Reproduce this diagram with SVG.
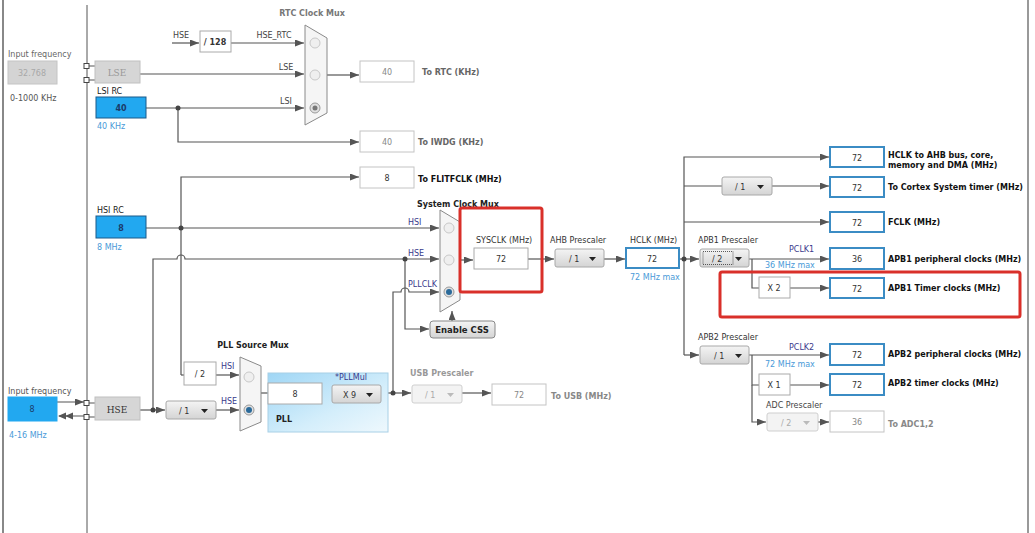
<svg xmlns="http://www.w3.org/2000/svg" width="1035" height="533" viewBox="0 0 1035 533">
<style>
text{font-family:"DejaVu Sans","Liberation Sans",sans-serif;font-size:8px;fill:#333}
.b{font-weight:bold}
.c{text-anchor:middle}
.gr{fill:#888}
.gb{fill:#777;font-weight:bold}
.nv{fill:#3a3a8c}
.bl{fill:#4a9ad8}
.ser{font-family:"DejaVu Serif","Liberation Serif",serif;font-size:9px}
.ln{stroke:#555;stroke-width:1.2;fill:none}
.ar{marker-end:url(#ah)}
.out{fill:#fff;stroke:#3b8cc4;stroke-width:2}
.gbox{fill:#fff;stroke:#c4c4c4;stroke-width:1}
.wbox{fill:#fff;stroke:#aaa;stroke-width:1}
.src{fill:#22a8f0;stroke:#1b5a8a;stroke-width:1}
.grs{fill:#d6d6d6;stroke:#c0c0c0;stroke-width:1}
.dd{fill:url(#gdd);stroke:#a8a8a8;stroke-width:1}
.ddx{fill:#f3f3f3;stroke:#cfcfcf;stroke-width:1}
.mux{fill:#f5f5f5;stroke:#8a8a8a;stroke-width:1}
.rad{fill:#efefef;stroke:#c8c8c8;stroke-width:1}
.rsel{fill:#e0e0e0;stroke:#999;stroke-width:1}
.red{fill:none;stroke:#d9302a;stroke-width:3}
.dot{fill:#444}
.sq{fill:#fff;stroke:#444;stroke-width:1}
</style>
<defs>
<marker id="ah" markerWidth="9" markerHeight="7" refX="9" refY="3.5" orient="auto" markerUnits="userSpaceOnUse"><path d="M0,0 L9,3.5 L0,7 z" fill="#555"/></marker>
<linearGradient id="gdd" x1="0" y1="0" x2="0" y2="1"><stop offset="0" stop-color="#f4f4f4"/><stop offset="1" stop-color="#d4d4d4"/></linearGradient>
<linearGradient id="gpll" x1="0" y1="0" x2="1" y2="1"><stop offset="0" stop-color="#9fd6f5"/><stop offset="0.6" stop-color="#d4eefb"/><stop offset="1" stop-color="#eef8fd"/></linearGradient>
<path id="tri" d="M0,0 L7,0 L3.5,4 z"/>
</defs>
<rect width="1035" height="533" fill="#fff"/>
<g id="frame">
<line x1="3" y1="0" x2="3" y2="533" stroke="#888" stroke-width="2"/>
<line x1="1028" y1="0" x2="1028" y2="533" stroke="#999" stroke-width="2"/>
<line x1="87" y1="5" x2="87" y2="533" stroke="#555" stroke-width="1"/>
</g>
<g id="connectors">
<path class="ln ar" d="M172,43 H199"/>
<path class="ln ar" d="M231,43 H304"/>
<path class="ln ar" d="M140,74 H304"/>
<path class="ln ar" d="M146,108 H304"/>
<path class="ln ar" d="M327,75 H359"/>
<path class="ln ar" d="M178,108 V142 H359"/>
<path class="ln" d="M89,66 H95 M89,80 H95"/>
<path class="ln ar" d="M181,375 V177 H359"/>
<path class="ln" d="M181,375 H184"/>
<path class="ln ar" d="M146,228 H439"/>
<path class="ln ar" d="M153,410 V259 H177 A4,4 0 0 1 185,259 H439"/>
<path class="ln ar" d="M393,393 V292 H401 A4,4 0 0 1 409,292 H439"/>
<path class="ln ar" d="M405,259 V329 H429"/>
<path class="ln ar" d="M452,321 V311"/>
<path class="ln ar" d="M460,260 H473"/>
<path class="ln ar" d="M528,259 H554"/>
<path class="ln ar" d="M604,259 H625"/>
<path class="ln ar" d="M679,259 H699"/>
<path class="ln ar" d="M684,355 V157 H829"/>
<path class="ln ar" d="M684,355 H699"/>
<path class="ln" d="M684,186 H722"/>
<path class="ln ar" d="M772,186 H829"/>
<path class="ln ar" d="M684,222 H829"/>
<path class="ln ar" d="M749,259 H829"/>
<path class="ln" d="M752,259 V288 H759"/>
<path class="ln ar" d="M790,288 H829"/>
<path class="ln ar" d="M749,355 H829"/>
<path class="ln" d="M752,355 V385 H759"/>
<path class="ln ar" d="M752,385 V422 H766"/>
<path class="ln ar" d="M790,385 H829"/>
<path class="ln ar" d="M818,422 H829"/>
<path class="ln ar" d="M57,402 H75 M75,402 H84"/>
<path class="ln" d="M89,403 H95 M89,417 H95 M59,416 H85"/>
<path d="M58,416 L66,412.5 L66,419.5 z M65,416 L73,412.5 L73,419.5 z" fill="#555"/>
<path class="ln ar" d="M140,410 H165"/>
<path class="ln ar" d="M216,410 H239"/>
<path class="ln ar" d="M216,375 H239"/>
<path class="ln" d="M261,393 H268"/>
<path class="ln" d="M322,393 H332"/>
<path class="ln ar" d="M381,393 H411"/>
<path class="ln ar" d="M462,393 H491"/>
<circle class="dot" cx="178" cy="108" r="2.5"/>
<circle class="dot" cx="181" cy="228" r="2.5"/>
<circle class="dot" cx="405" cy="259" r="2.5"/>
<circle class="dot" cx="684" cy="259" r="2.5"/>
<circle class="dot" cx="153" cy="410" r="2.5"/>
<circle class="dot" cx="393" cy="393" r="2.5"/>
<rect class="sq" x="84" y="63.5" width="5" height="5"/>
<rect class="sq" x="84" y="77.5" width="5" height="5"/>
<rect class="sq" x="84" y="400.5" width="5" height="5"/>
<rect class="sq" x="84" y="414.5" width="5" height="5"/>
</g>
<g id="input-lse">
<text x="8" y="57" class="gr" style="fill:#666">Input frequency</text>
<rect x="8" y="61" width="49" height="23" fill="#d4d4d4" stroke="#c4c4c4"/>
<text x="32" y="76" class="c" style="fill:#a8a8a8">32.768</text>
<text x="10" y="101" style="fill:#555">0-1000 KHz</text>
</g>
<g id="lse">
<rect class="grs" x="95" y="61" width="45" height="22"/>
<text x="117" y="76" class="c ser" style="fill:#999">LSE</text>
</g>
<g id="lsi">
<text x="97" y="94" style="fill:#222">LSI RC</text>
<rect class="src" x="96" y="97" width="50" height="21"/>
<text x="121" y="111" class="c b" style="fill:#1a3a6a">40</text>
<text x="97" y="129" class="bl">40 KHz</text>
</g>
<g id="hse-rtc-div">
<text x="173" y="38" style="fill:#444">HSE</text>
<rect class="wbox" x="200" y="31" width="31" height="21"/>
<text x="215" y="45" class="c b">/ 128</text>
<text x="274" y="38" class="c" style="fill:#444">HSE_RTC</text>
<text x="286" y="70" class="c" style="fill:#444">LSE</text>
<text x="286" y="104" class="c" style="fill:#444">LSI</text>
</g>
<g id="rtc-mux">
<text x="312" y="16" class="c gb">RTC Clock Mux</text>
<polygon class="mux" points="305,25 327,38 327,113 305,125"/>
<circle class="rad" cx="315" cy="43" r="5"/>
<circle class="rad" cx="315" cy="75" r="5"/>
<circle class="rsel" cx="315" cy="108" r="5"/>
<circle cx="315" cy="108" r="2.5" fill="#777"/>
</g>
<g id="rtc-out">
<rect class="gbox" x="360" y="61" width="54" height="21"/>
<text x="387" y="75" class="c gr">40</text>
<text x="422" y="75" class="gb" style="fill:#666">To RTC (KHz)</text>
</g>
<g id="iwdg-out">
<rect class="gbox" x="360" y="131" width="54" height="21"/>
<text x="387" y="145" class="c gr">40</text>
<text x="418" y="145" class="gb" style="fill:#666">To IWDG (KHz)</text>
</g>
<g id="flitf-out">
<rect class="gbox" x="360" y="167" width="54" height="21"/>
<text x="387" y="181" class="c">8</text>
<text x="418" y="182" class="b" style="fill:#111">To FLITFCLK (MHz)</text>
</g>
<g id="hsi">
<text x="97" y="213" style="fill:#222">HSI RC</text>
<rect class="src" x="96" y="216" width="50" height="22"/>
<text x="121" y="231" class="c b" style="fill:#1a3a6a">8</text>
<text x="97" y="250" class="bl">8 MHz</text>
</g>
<g id="sys-mux">
<text x="458" y="207" class="c b" style="fill:#222">System Clock Mux</text>
<text x="408" y="225" class="nv">HSI</text>
<text x="408" y="256" class="nv">HSE</text>
<text x="408" y="287" class="nv">PLLCLK</text>
<polygon class="mux" points="440,210 460,222 460,300 440,312"/>
<circle class="rad" cx="449" cy="228" r="5"/>
<circle class="rad" cx="449" cy="260" r="5"/>
<circle class="rsel" cx="449" cy="292" r="5"/>
<circle cx="449" cy="292" r="3" fill="#2a6a9a"/>
</g>
<g id="enable-css">
<rect x="430" y="321" width="65" height="17" rx="3" fill="url(#gdd)" stroke="#888"/>
<text x="462" y="333" class="c b" style="fill:#222;font-size:8.5px">Enable CSS</text>
</g>
<g id="sysclk">
<text x="476" y="243">SYSCLK (MHz)</text>
<rect class="wbox" x="474" y="248" width="54" height="21"/>
<text x="501" y="262" class="c">72</text>
</g>
<g id="ahb">
<text x="550" y="243">AHB Prescaler</text>
<rect class="dd" x="555" y="249" width="49" height="18" rx="2"/>
<text x="569" y="262">/ 1</text>
<use href="#tri" x="589" y="257" fill="#222"/>
</g>
<g id="hclk">
<text x="630" y="243">HCLK (MHz)</text>
<rect class="out" x="626" y="248" width="53" height="20"/>
<text x="652" y="262" class="c">72</text>
<text x="630" y="280" class="bl">72 MHz max</text>
</g>
<g id="hclk-ahb">
<rect class="out" x="830" y="147" width="54" height="20"/>
<text x="857" y="161" class="c">72</text>
<text x="888" y="158" class="b" style="fill:#111">HCLK to AHB bus, core,</text>
<text x="888" y="168" class="b" style="fill:#111">memory and DMA (MHz)</text>
</g>
<g id="cortex">
<rect class="dd" x="722" y="177" width="50" height="18" rx="2"/>
<text x="735" y="190">/ 1</text>
<use href="#tri" x="757" y="185" fill="#222"/>
<rect class="out" x="830" y="177" width="54" height="20"/>
<text x="857" y="191" class="c">72</text>
<text x="888" y="190" class="b" style="fill:#111">To Cortex System timer (MHz)</text>
</g>
<g id="fclk">
<rect class="out" x="830" y="212" width="54" height="20"/>
<text x="857" y="226" class="c">72</text>
<text x="888" y="225" class="b" style="fill:#111">FCLK (MHz)</text>
</g>
<g id="apb1">
<text x="698" y="243">APB1 Prescaler</text>
<rect class="dd" x="700" y="249" width="49" height="18" rx="2"/>
<rect x="703" y="251.5" width="30" height="13" fill="none" stroke="#333" stroke-width="0.8" stroke-dasharray="1,1"/>
<text x="712" y="262">/ 2</text>
<use href="#tri" x="735" y="257" fill="#222"/>
<text x="789" y="252" class="nv">PCLK1</text>
<text x="765" y="268" class="bl">36 MHz max</text>
<rect class="out" x="830" y="248" width="54" height="21"/>
<text x="857" y="262" class="c">36</text>
<text x="888" y="262" class="b" style="fill:#111">APB1 peripheral clocks (MHz)</text>
</g>
<g id="apb1-timer">
<rect class="wbox" x="759" y="277" width="31" height="21"/>
<text x="774" y="291" class="c">X 2</text>
<rect class="out" x="830" y="278" width="54" height="20"/>
<text x="857" y="292" class="c">72</text>
<text x="888" y="291" class="b" style="fill:#111">APB1 Timer clocks (MHz)</text>
</g>
<g id="apb2">
<text x="698" y="340">APB2 Prescaler</text>
<rect class="dd" x="700" y="346" width="49" height="18" rx="2"/>
<text x="714" y="359">/ 1</text>
<use href="#tri" x="735" y="354" fill="#222"/>
<text x="789" y="350" class="nv">PCLK2</text>
<text x="765" y="367" class="bl">72 MHz max</text>
<rect class="out" x="830" y="344" width="54" height="21"/>
<text x="857" y="358" class="c">72</text>
<text x="888" y="357" class="b" style="fill:#111">APB2 peripheral clocks (MHz)</text>
</g>
<g id="apb2-timer">
<rect class="wbox" x="759" y="374" width="31" height="21"/>
<text x="774" y="388" class="c">X 1</text>
<rect class="out" x="830" y="374" width="54" height="21"/>
<text x="857" y="388" class="c">72</text>
<text x="888" y="386" class="b" style="fill:#111">APB2 timer clocks (MHz)</text>
</g>
<g id="adc">
<text x="766" y="408" style="fill:#444">ADC Prescaler</text>
<rect class="ddx" x="767" y="413" width="51" height="18" rx="2"/>
<text x="781" y="426" style="fill:#aaa">/ 2</text>
<use href="#tri" x="803" y="421" fill="#bbb"/>
<rect class="gbox" x="830" y="411" width="54" height="21"/>
<text x="857" y="425" class="c gr">36</text>
<text x="888" y="427" class="gb" style="fill:#888">To ADC1,2</text>
</g>
<g id="hse-input">
<text x="8" y="394" style="fill:#555">Input frequency</text>
<rect x="8" y="397" width="49" height="24" fill="#22a8f0" stroke="#22a8f0"/>
<text x="32" y="412" class="c" style="fill:#1a3a6a">8</text>
<text x="9" y="438" class="bl">4-16 MHz</text>
</g>
<g id="hse">
<rect class="grs" x="95" y="397" width="45" height="23"/>
<text x="117" y="413" class="c ser" style="fill:#333">HSE</text>
</g>
<g id="pll-div1">
<rect class="dd" x="166" y="401" width="50" height="18" rx="2"/>
<text x="179" y="414">/ 1</text>
<use href="#tri" x="201" y="409" fill="#222"/>
</g>
<g id="hsi-div2">
<rect class="wbox" x="184" y="362" width="32" height="23"/>
<text x="200" y="377" class="c">/ 2</text>
</g>
<g id="pll-src-mux">
<text x="253" y="348" class="c b" style="fill:#222">PLL Source Mux</text>
<text x="221" y="369" class="nv">HSI</text>
<text x="221" y="404" class="nv">HSE</text>
<polygon class="mux" points="240,357 261,366 261,422 240,431"/>
<circle class="rad" cx="249" cy="377" r="5"/>
<circle class="rsel" cx="249" cy="410" r="5"/>
<circle cx="249" cy="410" r="3" fill="#2a6a9a"/>
</g>
<g id="pll">
<rect x="268" y="373" width="120" height="59" fill="url(#gpll)" stroke="#a8d0e6"/>
<rect class="wbox" x="268" y="383" width="54" height="21"/>
<text x="295" y="397" class="c">8</text>
<text x="335" y="380" class="nv">*PLLMul</text>
<rect class="dd" x="332" y="385" width="49" height="18" rx="2"/>
<text x="343" y="398">X 9</text>
<use href="#tri" x="366" y="393" fill="#222"/>
<text x="276" y="422" class="b" style="fill:#222">PLL</text>
</g>
<g id="usb">
<text x="410" y="376" class="gb" style="fill:#999">USB Prescaler</text>
<rect class="ddx" x="412" y="385" width="50" height="18" rx="2"/>
<text x="425" y="398" style="fill:#aaa">/ 1</text>
<use href="#tri" x="447" y="393" fill="#bbb"/>
<rect class="gbox" x="492" y="384" width="54" height="21"/>
<text x="519" y="398" class="c gr">72</text>
<text x="551" y="399" class="gb" style="fill:#888">To USB (MHz)</text>
</g>
<g id="highlights">
<rect class="red" x="460" y="208" width="82" height="84" rx="2"/>
<rect class="red" x="720" y="272" width="300" height="45" rx="2"/>
</g>
</svg>
